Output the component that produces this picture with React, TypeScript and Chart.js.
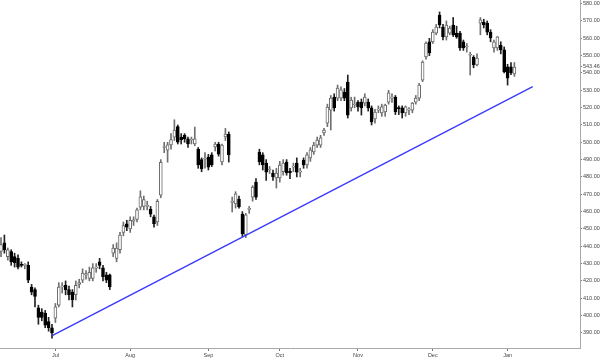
import React, { useEffect, useRef } from "react";
import { Chart, registerables } from "chart.js";

Chart.register(...registerables);

// Daily candles (index 0 = first visible session)
const OPEN = [
  437, 442, 434, 437, 434, 433, 429.5, 429, 429, 416.5,
  415, 404.5, 402, 401.5, 396.5, 393, 398.5, 406, 416.5, 417.5,
  415, 413.5, 412, 418, 420.5, 423.5, 421.5, 421.5, 427.3, 431,
  427.5, 423.5, 423.5, 436, 433, 438, 448, 453, 450, 454.5,
  455.5, 462.5, 463, 463, 461.5, 457, 454, 469.5, 497, 495.5,
  498.5, 503, 509, 503, 504, 502, 501.3, 499, 496, 490,
  490.2, 491.5, 492.7, 497.3, 499, 488.6, 503.1, 504.8, 465.3, 464.4,
  467.3, 458.6, 446.5, 461.3, 468.4, 477.1, 494.4, 492.7, 488, 484,
  482.3, 479.5, 479.4, 483, 488.6, 483.4, 485.7, 488, 482.8, 489.8,
  486.9, 491, 494.4, 498.4, 498.4, 505.4, 511, 518.6, 526.1, 525.5,
  525.5, 529, 534.8, 519.9, 521.5, 523.2, 523.2, 522.6, 523.2, 519.9,
  513.5, 518.6, 516.9, 517.5, 523.2, 525.5, 526.1, 519.9, 519.9, 516.9,
  518.6, 518.6, 523.2, 525.5, 535.9, 549.2, 557.9, 557.9, 563, 573.4,
  566.5, 560.8, 563, 567.7, 563, 563, 557.9, 555, 550.2, 549,
  544.6, 568.8, 569.4, 568.8, 563.6, 554.4, 554.4, 556, 553.3, 543.5,
  543.5, 539.5,
];
const HIGH = [
  445, 446.5, 439, 438, 436, 435, 431, 430, 431, 418,
  416, 406, 404, 403, 399, 395, 407, 419, 419, 420,
  417, 415, 420, 421, 427, 426, 428, 430, 430, 433,
  429, 425, 424, 441, 442, 448, 454, 455, 457, 457,
  462, 472, 469, 466, 463, 458, 467, 490, 500, 500,
  505, 513, 510, 505, 505, 503, 503, 508.8, 497, 491,
  494, 493, 494, 500, 500, 499, 508, 506, 468.4, 471.5,
  469, 460, 459, 463, 475, 479, 496, 494, 490, 486,
  484, 485, 489, 490, 490, 485, 488, 491, 485, 491,
  494, 497, 500, 503, 504, 508, 522, 527, 528, 533,
  532, 531, 538.8, 526, 526.1, 524, 525, 528, 525, 521,
  519, 521, 522, 522, 530, 528, 527, 521, 521, 521,
  520, 523, 527, 534, 547, 558, 560, 565, 568, 575.2,
  568, 570, 567, 572, 567, 564, 559, 557, 552, 550,
  551, 572, 571, 570, 565, 559, 561, 558, 555, 545,
  546, 546,
];
const LOW = [
  434, 436, 432, 429, 428, 427, 428, 427, 419, 412,
  405, 395, 397, 393, 391, 387, 396, 405, 413, 412,
  409, 405, 409, 416, 419, 421, 420, 420, 425, 427,
  420, 419, 415, 434, 431, 436, 446, 449, 448, 452,
  454, 461, 461, 461, 457, 451, 452, 468, 494, 488.5,
  496, 501, 499, 499, 500, 497, 499, 498, 485, 483,
  485, 484, 486, 495, 492, 487, 501, 488.6, 459.8, 462,
  462, 445.5, 445, 459, 466, 467, 487, 484, 478, 482,
  478, 473.6, 477, 481, 481, 479, 483, 480, 480, 485,
  485, 489, 493, 497, 497, 504, 509, 507.1, 518, 524,
  524, 524, 514, 518, 519.9, 518, 515.7, 521, 518, 510,
  511, 517, 515, 515, 522, 523, 516, 516, 514, 515,
  516, 517, 522, 524, 535, 548, 550, 557, 562, 566,
  559, 559, 562, 561, 560, 553, 553, 552, 538.8, 543,
  544, 562, 566, 562, 558, 552, 553, 551, 540, 533,
  539, 538,
];
const CLOSE = [
  441, 438, 438, 431, 430.5, 428, 429, 429.5, 420.5, 413.5,
  411, 399, 399, 394.5, 393, 390, 405, 416.5, 417.2, 415,
  412, 409, 417.5, 419, 424.5, 424.2, 425, 427.5, 428, 429,
  422.5, 420.5, 416.5, 439, 439, 446.5, 452, 451, 455, 455.2,
  461, 468.5, 467, 463.5, 458.5, 453, 466, 488.5, 497.5, 498.5,
  501.5, 507, 500, 501.5, 502, 499, 501.8, 502, 487, 484.6,
  490.7, 485.7, 487, 499, 493.2, 498.4, 504.8, 492.7, 465.9, 470.2,
  462.7, 447.1, 458.1, 461.8, 474.2, 468.4, 488.6, 486.9, 482.8, 484.5,
  480, 482.3, 486.9, 488, 482.3, 482.5, 486.2, 482.8, 483.3, 486.9,
  492.7, 495.6, 498.4, 501.3, 502.5, 507.1, 520.3, 525.5, 519.9, 531.3,
  530.2, 525.5, 515.7, 524.4, 522, 520.4, 519.9, 526.1, 519.9, 511.7,
  517.4, 519.1, 520.4, 521.5, 528.5, 526, 517.5, 519.4, 516.9, 520.4,
  519.1, 522.6, 525.5, 533, 546.3, 557.3, 551.5, 563.6, 566.5, 567.7,
  560.8, 567.7, 565.9, 561.9, 560.8, 554.4, 554.4, 555.4, 550.6, 544.6,
  548.6, 570.6, 567.7, 563.6, 560.2, 557.9, 560.8, 553.3, 540.6, 537,
  540.1, 543.46,
];

const MONTH_TICKS = [16, 38, 61, 82, 105, 127, 149];
const MONTH_LABELS = ["Jul", "Aug", "Sep", "Oct", "Nov", "Dec", "Jan"];
const PRICE_TICKS = [390, 400, 410, 420, 430, 440, 450, 460, 470, 480, 490, 500, 510, 520, 530, 540, 550, 560, 570, 580];
const LAST_PRICE = 543.46;

// Trend line anchors (session index, price)
const TREND_X = [15.2, 156.4];
const TREND_Y = [388.6, 532.1];

const X_MIN = -0.294;
const X_MAX = 170.3;
const Y_MIN = 381.3;
const Y_MAX = 582.1;

export default function App() {
  const ref = useRef<HTMLCanvasElement>(null);

  useEffect(() => {
    document.body.style.margin = "0";
    const canvas = ref.current;
    if (!canvas) return;
    const idx = OPEN.map((_, i) => i);
    const up = (i: number) => CLOSE[i] >= OPEN[i];
    const font = { family: "'Liberation Sans', Arial, sans-serif", size: 5.5 };

    const chart = new Chart(canvas, {
      type: "bar",
      data: {
        datasets: [
          {
            type: "line",
            data: TREND_X.map((x, i) => ({ x, y: TREND_Y[i] })),
            borderColor: "#3838ff",
            borderWidth: 1.3,
            pointRadius: 0,
            order: 0,
          } as any,
          {
            data: idx.map((i) => ({ x: i, y: [OPEN[i], CLOSE[i]] })),
            backgroundColor: idx.map((i) => (up(i) ? "#ffffff" : "#000000")),
            borderColor: idx.map((i) => (up(i) ? "#6a6a6a" : "#000000")),
            borderWidth: 1,
            borderSkipped: false,
            barThickness: 3,
            minBarLength: 1,
            grouped: false,
            order: 1,
          } as any,
          {
            data: idx.map((i) => ({ x: i, y: [LOW[i], HIGH[i]] })),
            backgroundColor: idx.map((i) => (up(i) ? "#707070" : "#222222")),
            borderWidth: 0,
            barThickness: 1,
            grouped: false,
            order: 2,
          } as any,
        ],
      },
      options: {
        animation: false,
        responsive: false,
        maintainAspectRatio: false,
        layout: { padding: 0 },
        plugins: { legend: { display: false }, tooltip: { enabled: false } },
        scales: {
          x: {
            type: "linear",
            min: X_MIN,
            max: X_MAX,
            offset: false,
            grid: { display: true, drawOnChartArea: false, drawTicks: true, tickLength: 3, color: "#777", offset: false },
            border: { display: true, color: "#aaa" },
            afterBuildTicks: (s: any) => {
              s.ticks = MONTH_TICKS.map((v) => ({ value: v }));
            },
            afterFit: (s: any) => {
              s.height = 11;
              s.paddingLeft = 0;
              s.paddingRight = 0;
            },
            ticks: {
              autoSkip: false,
              maxRotation: 0,
              padding: 1,
              color: "#444",
              font,
              callback: (v: any) => {
                const k = MONTH_TICKS.indexOf(Number(v));
                return k >= 0 ? MONTH_LABELS[k] : "";
              },
            },
          },
          y: {
            type: "linear",
            position: "right",
            min: Y_MIN,
            max: Y_MAX,
            grid: { display: true, drawOnChartArea: false, drawTicks: true, tickLength: 2, color: "#777" },
            border: { display: true, color: "#aaa" },
            afterBuildTicks: (s: any) => {
              s.ticks = [...PRICE_TICKS, LAST_PRICE].map((v) => ({ value: v }));
            },
            afterFit: (s: any) => {
              s.width = 20;
              s.paddingTop = 0;
              s.paddingBottom = 0;
            },
            ticks: {
              autoSkip: false,
              padding: 1,
              color: "#444",
              font,
              callback: (v: any) => Number(v).toFixed(2),
            },
          },
        },
      } as any,
    });
    return () => chart.destroy();
  }, []);

  return (
    <div style={{ position: "absolute", left: 0, top: 0, width: 600, height: 359 }}>
      <canvas ref={ref} width={600} height={359} />
    </div>
  );
}
